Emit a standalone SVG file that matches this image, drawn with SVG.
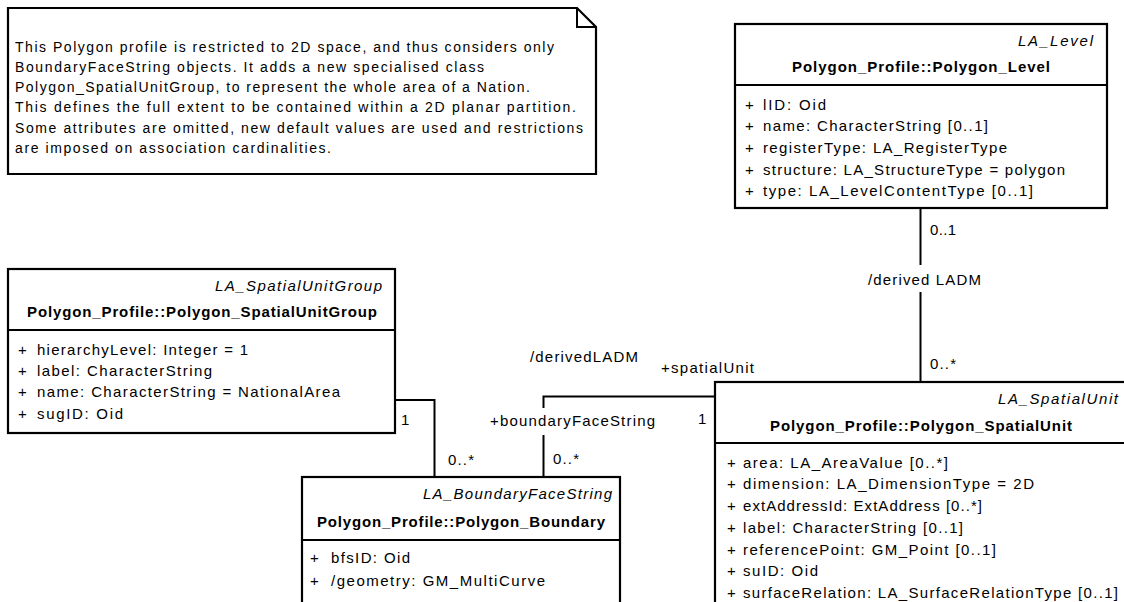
<svg xmlns="http://www.w3.org/2000/svg" width="1124" height="602" viewBox="0 0 1124 602">
<style>
text{font-family:"Liberation Sans",Arial,sans-serif;fill:#000}
.t{font-size:15px}
.s{font-size:15px;font-style:italic}
.b{font-size:15px;font-weight:bold}
.n{font-size:14px}
.box{fill:#fff;stroke:#000;stroke-width:2.2}
.div{stroke:#000;stroke-width:2.2}
.con{fill:none;stroke:#000;stroke-width:2}
</style>
<rect width="1124" height="602" fill="#fff"/>
<g id="note">
<path class="box" d="M8,8 H577 L596,27 V174 H8 Z"/>
<path class="con" d="M577,8 V27 H596"/>
<text class="n" x="15" y="52" textLength="539" lengthAdjust="spacing">This Polygon profile is restricted to 2D space, and thus considers only</text>
<text class="n" x="15" y="72" textLength="469" lengthAdjust="spacing">BoundaryFaceString objects. It adds a new specialised class</text>
<text class="n" x="15" y="92" textLength="515" lengthAdjust="spacing">Polygon_SpatialUnitGroup, to represent the whole area of a Nation.</text>
<text class="n" x="15" y="112" textLength="561" lengthAdjust="spacing">This defines the full extent to be contained within a 2D planar partition.</text>
<text class="n" x="15" y="133" textLength="568" lengthAdjust="spacing">Some attributes are omitted, new default values are used and restrictions</text>
<text class="n" x="15" y="153" textLength="316" lengthAdjust="spacing">are imposed on association cardinalities.</text>
</g>
<g id="connectors">
<path class="con" d="M920.5,208 V265 M920.5,292 V382"/>
<path class="con" d="M395,400 H434.5 V477"/>
<path class="con" d="M715,396.5 H543.5 V408 M543.5,435 V477"/>
<text class="t" x="930" y="235" textLength="26" lengthAdjust="spacing">0..1</text>
<text class="t" x="868" y="285" textLength="113" lengthAdjust="spacing">/derived LADM</text>
<text class="t" x="930" y="369" textLength="26" lengthAdjust="spacing">0..*</text>
<text class="t" x="530" y="362" textLength="108" lengthAdjust="spacing">/derivedLADM</text>
<text class="t" x="661" y="373" textLength="93" lengthAdjust="spacing">+spatialUnit</text>
<text class="t" x="698" y="424">1</text>
<text class="t" x="490" y="426" textLength="165" lengthAdjust="spacing">+boundaryFaceString</text>
<text class="t" x="401" y="425">1</text>
<text class="t" x="448" y="465" textLength="26" lengthAdjust="spacing">0..*</text>
<text class="t" x="553" y="464" textLength="26" lengthAdjust="spacing">0..*</text>
</g>
<g id="Polygon_Level">
<rect class="box" x="735" y="24" width="372" height="184"/>
<line class="div" x1="735" y1="85" x2="1107" y2="85"/>
<text class="s" x="1018" y="45.5" textLength="75" lengthAdjust="spacing">LA_Level</text>
<text class="b" x="792" y="72" textLength="258" lengthAdjust="spacing">Polygon_Profile::Polygon_Level</text>
<text class="t" x="745" y="109.5">+</text><text class="t" x="763" y="109.5" textLength="63" lengthAdjust="spacing">lID: Oid</text>
<text class="t" x="745" y="131">+</text><text class="t" x="763" y="131" textLength="225" lengthAdjust="spacing">name: CharacterString [0..1]</text>
<text class="t" x="745" y="153">+</text><text class="t" x="763" y="153" textLength="244" lengthAdjust="spacing">registerType: LA_RegisterType</text>
<text class="t" x="745" y="174.5">+</text><text class="t" x="763" y="174.5" textLength="302" lengthAdjust="spacing">structure: LA_StructureType = polygon</text>
<text class="t" x="745" y="196">+</text><text class="t" x="763" y="196" textLength="270" lengthAdjust="spacing">type: LA_LevelContentType [0..1]</text>
</g>
<g id="Polygon_SpatialUnitGroup">
<rect class="box" x="8" y="269" width="387" height="164"/>
<line class="div" x1="8" y1="330" x2="395" y2="330"/>
<text class="s" x="215" y="290.5" textLength="167" lengthAdjust="spacing">LA_SpatialUnitGroup</text>
<text class="b" x="27" y="317" textLength="350" lengthAdjust="spacing">Polygon_Profile::Polygon_SpatialUnitGroup</text>
<text class="t" x="18" y="354.5">+</text><text class="t" x="37" y="354.5" textLength="211" lengthAdjust="spacing">hierarchyLevel: Integer = 1</text>
<text class="t" x="18" y="375.5">+</text><text class="t" x="37" y="375.5" textLength="175" lengthAdjust="spacing">label: CharacterString</text>
<text class="t" x="18" y="397">+</text><text class="t" x="37" y="397" textLength="303" lengthAdjust="spacing">name: CharacterString = NationalArea</text>
<text class="t" x="18" y="419">+</text><text class="t" x="37" y="419" textLength="86" lengthAdjust="spacing">sugID: Oid</text>
</g>
<g id="Polygon_Boundary">
<rect class="box" x="302" y="477" width="318" height="140"/>
<line class="div" x1="302" y1="540" x2="620" y2="540"/>
<text class="s" x="423" y="498.5" textLength="189" lengthAdjust="spacing">LA_BoundaryFaceString</text>
<text class="b" x="317" y="527" textLength="288" lengthAdjust="spacing">Polygon_Profile::Polygon_Boundary</text>
<text class="t" x="310" y="563">+</text><text class="t" x="331" y="563" textLength="79" lengthAdjust="spacing">bfsID: Oid</text>
<text class="t" x="310" y="586">+</text><text class="t" x="331" y="586" textLength="214" lengthAdjust="spacing">/geometry: GM_MultiCurve</text>
</g>
<g id="Polygon_SpatialUnit">
<rect class="box" x="715" y="382" width="420" height="240"/>
<line class="div" x1="715" y1="443" x2="1135" y2="443"/>
<text class="s" x="998" y="403.5" textLength="120" lengthAdjust="spacing">LA_SpatialUnit</text>
<text class="b" x="770" y="430.5" textLength="302" lengthAdjust="spacing">Polygon_Profile::Polygon_SpatialUnit</text>
<text class="t" x="727" y="467.5">+</text><text class="t" x="743" y="467.5" textLength="205" lengthAdjust="spacing">area: LA_AreaValue [0..*]</text>
<text class="t" x="727" y="489">+</text><text class="t" x="743" y="489" textLength="291" lengthAdjust="spacing">dimension: LA_DimensionType = 2D</text>
<text class="t" x="727" y="511">+</text><text class="t" x="743" y="511" textLength="239" lengthAdjust="spacing">extAddressId: ExtAddress [0..*]</text>
<text class="t" x="727" y="533">+</text><text class="t" x="743" y="533" textLength="220" lengthAdjust="spacing">label: CharacterString [0..1]</text>
<text class="t" x="727" y="554.5">+</text><text class="t" x="743" y="554.5" textLength="253" lengthAdjust="spacing">referencePoint: GM_Point [0..1]</text>
<text class="t" x="727" y="576">+</text><text class="t" x="743" y="576" textLength="75" lengthAdjust="spacing">suID: Oid</text>
<text class="t" x="727" y="597.5">+</text><text class="t" x="743" y="597.5" textLength="375" lengthAdjust="spacing">surfaceRelation: LA_SurfaceRelationType [0..1]</text>
</g>
</svg>
